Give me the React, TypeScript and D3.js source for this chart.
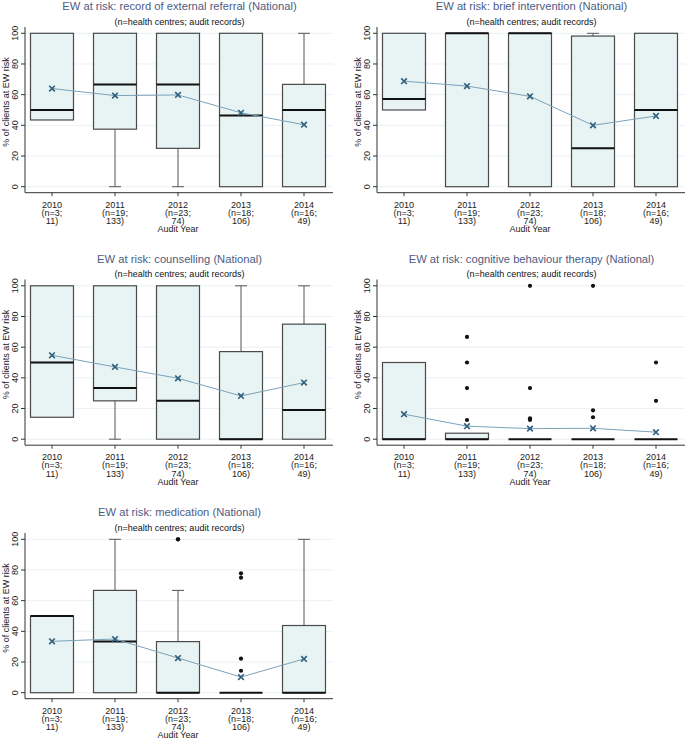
import React from 'react';
import * as d3 from 'd3';

// audit years and the n labels under each year
const years = ['2010', '2011', '2012', '2013', '2014'];
const nLine1 = ['(n=3;', '(n=19;', '(n=23;', '(n=18;', '(n=16;'];
const nLine2 = ['11)', '133)', '74)', '106)', '49)'];
const yTicks = [0, 20, 40, 60, 80, 100];

// box stats per year: [lower whisker, q1, median, q3, upper whisker]
const referralBoxes = [[43.5, 43.5, 50, 100, 100], [0, 37.5, 66.7, 100, 100], [0, 25, 66.7, 100, 100], [0, 0, 46.4, 100, 100], [0, 0, 50, 66.7, 100]];
const referralMeans = [64, 59.4, 59.8, 48.2, 40.4];
const referralOut = [[], [], [], [], []];

const briefBoxes = [[50, 50, 57.1, 100, 100], [0, 0, 100, 100, 100], [0, 0, 100, 100, 100], [0, 0, 25, 98.2, 100], [0, 0, 50, 100, 100]];
const briefMeans = [68.8, 65.6, 58.9, 40, 46.1];
const briefOut = [[], [], [], [], []];

const counsellingBoxes = [[14.3, 14.3, 50, 100, 100], [0, 25, 33.3, 100, 100], [0, 0, 25, 100, 100], [0, 0, 0, 57.1, 100], [0, 0, 19, 75, 100]];
const counsellingMeans = [54.7, 47.1, 39.7, 28.2, 36.9];
const counsellingOut = [[], [], [], [], []];

const cbtBoxes = [[0, 0, 0, 50, 50], [0, 0, 0, 3.9, 3.9], [0, 0, 0, 0, 0], [0, 0, 0, 0, 0], [0, 0, 0, 0, 0]];
const cbtMeans = [16.3, 8.5, 6.9, 7.1, 4.6];
const cbtOut = [[], [66.7, 50, 33.3, 12.5], [100, 33.3, 13.6, 12.5], [100, 18.8, 14.3], [50, 25]];

const medicationBoxes = [[0, 0, 50, 50, 50], [0, 0, 33.3, 66.7, 100], [0, 0, 0, 33.3, 66.7], [0, 0, 0, 0, 0], [0, 0, 0, 43.8, 100]];
const medicationMeans = [33.5, 35, 22.6, 10.2, 22];
const medicationOut = [[], [], [100, 100], [77.8, 75, 22.2, 14.3], []];

const panels = [
  { title: 'EW at risk: record of external referral (National)', boxes: referralBoxes, means: referralMeans, out: referralOut, ox: 0, oy: 0 },
  { title: 'EW at risk: brief intervention (National)', boxes: briefBoxes, means: briefMeans, out: briefOut, ox: 352, oy: 0 },
  { title: 'EW at risk: counselling (National)', boxes: counsellingBoxes, means: counsellingMeans, out: counsellingOut, ox: 0, oy: 252.5 },
  { title: 'EW at risk: cognitive behaviour therapy (National)', boxes: cbtBoxes, means: cbtMeans, out: cbtOut, ox: 352, oy: 252.5 },
  { title: 'EW at risk: medication (National)', boxes: medicationBoxes, means: medicationMeans, out: medicationOut, ox: 0, oy: 506 },
];

const font = '"Liberation Sans", Arial, Helvetica, sans-serif';
const axisX = 25;
const rightX = 333;

const x = d3.scalePoint<string>().domain(years).range([52, 304]);
const y = d3.scaleLinear().domain([0, 100]).range([186.7, 33.3]);
const boxW = 43;
const meanLine = d3.line<number>().x((_, i) => x(years[i])!).y((d) => y(d));

function Panel({ p }: { p: typeof panels[number] }) {
  const cx = (axisX + rightX) / 2 + 0.5;
  const baseY = y(0) + 6;
  return (
    <g transform={`translate(${p.ox},${p.oy})`} fontFamily={font}>
      <text x={cx} y={10} textAnchor="middle" fontSize={11.2} fill="#4d5c82">{p.title}</text>
      <text x={cx} y={24.5} textAnchor="middle" fontSize={9} fill="#111">(n=health centres; audit records)</text>

      {yTicks.map((t) => (
        <line key={'g' + t} x1={axisX} x2={rightX} y1={y(t)} y2={y(t)} stroke="#e6ecf0" strokeWidth={0.8} />
      ))}

      {p.boxes.map((b, i) => {
        const c = x(years[i])!;
        const [lo, q1, med, q3, hi] = b;
        return (
          <g key={'b' + i}>
            {hi > q3 && (
              <g stroke="#555" strokeWidth={1}>
                <line x1={c} x2={c} y1={y(q3)} y2={y(hi)} />
                <line x1={c - 6} x2={c + 6} y1={y(hi)} y2={y(hi)} />
              </g>
            )}
            {lo < q1 && (
              <g stroke="#555" strokeWidth={1}>
                <line x1={c} x2={c} y1={y(q1)} y2={y(lo)} />
                <line x1={c - 6} x2={c + 6} y1={y(lo)} y2={y(lo)} />
              </g>
            )}
            {q3 > q1 && (
              <rect x={c - boxW / 2} width={boxW} y={y(q3)} height={y(q1) - y(q3)} fill="#e8f3f3" stroke="#4a4a4a" strokeWidth={1.2} />
            )}
            <line x1={c - boxW / 2} x2={c + boxW / 2} y1={y(med)} y2={y(med)} stroke="#111" strokeWidth={2} />
            {p.out[i].map((v, j) => (
              <circle key={j} cx={c} cy={y(v)} r={2.1} fill="#111" />
            ))}
          </g>
        );
      })}

      <path d={meanLine(p.means)!} fill="none" stroke="#7ba3bb" strokeWidth={1} />
      {p.means.map((m, i) => {
        const c = x(years[i])!;
        const cy = y(m);
        return (
          <g key={'m' + i} stroke="#2f5f7c" strokeWidth={1.6}>
            <line x1={c - 2.8} x2={c + 2.8} y1={cy - 2.8} y2={cy + 2.8} />
            <line x1={c - 2.8} x2={c + 2.8} y1={cy + 2.8} y2={cy - 2.8} />
          </g>
        );
      })}

      {/* y axis */}
      <line x1={axisX} x2={axisX} y1={27} y2={baseY} stroke="#333" strokeWidth={1} />
      {yTicks.map((t) => (
        <g key={'t' + t}>
          <line x1={axisX - 4} x2={axisX} y1={y(t)} y2={y(t)} stroke="#333" strokeWidth={1} />
          <text transform={`translate(${axisX - 7},${y(t)}) rotate(-90)`} textAnchor="middle" fontSize={9} fill="#222">{t}</text>
        </g>
      ))}
      <text transform={`translate(${axisX - 16.5},${(y(0) + y(100)) / 2 - 8}) rotate(-90)`} textAnchor="middle" fontSize={9} fill="#222">% of clients at EW risk</text>

      {/* x axis */}
      <line x1={axisX} x2={rightX} y1={baseY} y2={baseY} stroke="#333" strokeWidth={1} />
      {years.map((yr, i) => {
        const c = x(yr)!;
        return (
          <g key={'x' + yr} fontSize={9} fill="#222" textAnchor="middle">
            <line x1={c} x2={c} y1={baseY} y2={baseY + 3.5} stroke="#333" strokeWidth={1} />
            <text x={c} y={y(0) + 21}>{yr}</text>
            <text x={c} y={y(0) + 29}>{nLine1[i]}</text>
            <text x={c} y={y(0) + 37.5}>{nLine2[i]}</text>
          </g>
        );
      })}
      <text x={x('2012')!} y={y(0) + 45.5} textAnchor="middle" fontSize={9} fill="#222">Audit Year</text>
    </g>
  );
}

export default function App() {
  return (
    <svg width={685} height={739} style={{ position: 'absolute', left: 0, top: 0, background: '#fff' }}>
      <rect width={685} height={739} fill="#fff" />
      {panels.map((p) => (
        <Panel key={p.title} p={p} />
      ))}
    </svg>
  );
}
